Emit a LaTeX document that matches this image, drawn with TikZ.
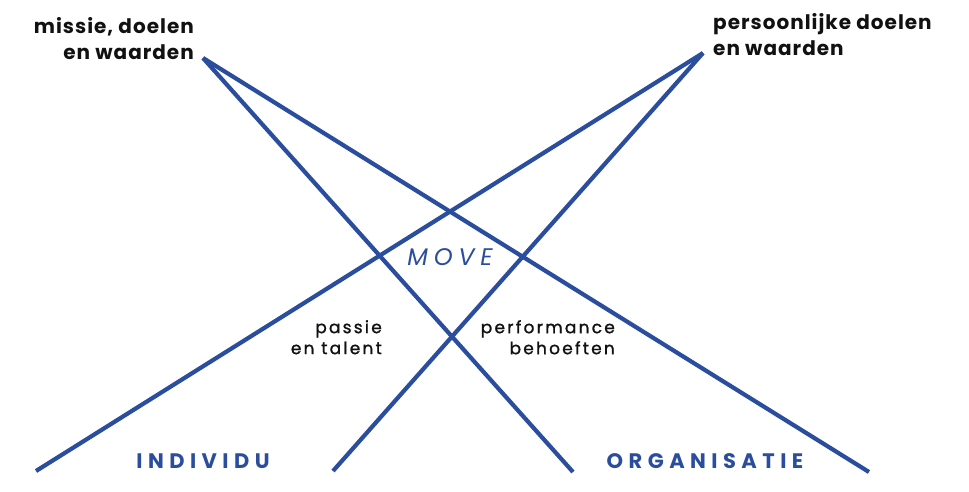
\documentclass[tikz,border=0pt]{standalone}
\usepackage{fontspec}
\setmainfont{Poppins}
\newfontfamily\topfont[LetterSpace=5]{Poppins}
\newfontfamily\midfont[LetterSpace=13, FakeBold=1.2]{Poppins}
\newfontfamily\movefont[LetterSpace=24]{Poppins}
\newfontfamily\polefont[LetterSpace=26]{Poppins}
\usetikzlibrary{positioning}
\definecolor{mBlue}{HTML}{2B4D9D}
\definecolor{mInk}{HTML}{111111}

\begin{document}
\begin{tikzpicture}[x=1pt, y=-1pt,
  beam/.style={draw=mBlue, line width=4.2pt},
  lab/.style={font=\topfont\bfseries\fontsize{20}{26}\selectfont\color{mInk}, inner sep=0pt},
  small/.style={font=\midfont\fontsize{17}{21}\selectfont\color{mInk}, inner sep=0pt, align=right},
  pole/.style={font=\polefont\bfseries\fontsize{21}{24}\selectfont\color{mBlue}, inner sep=0pt}]
  \useasboundingbox (0,0) rectangle (969,491);
  % apexes and feet
  \coordinate (ml) at (203,58);
  \coordinate (pd) at (703,53);
  \coordinate (mlA) at (573,472);
  \coordinate (mlB) at (869,472);
  \coordinate (pdA) at (36,471);
  \coordinate (pdB) at (333,471);
  % beams
  \draw[beam] (ml) -- (mlA);
  \draw[beam] (ml) -- (mlB);
  \draw[beam] (pd) -- (pdA);
  \draw[beam] (pd) -- (pdB);
  % labels
  \node[lab, align=right, anchor=north east] (missie) at (194,17) {missie, doelen\\en waarden};
  \node[lab, align=left, anchor=north west] (pers) at (713,13) {persoonlijke doelen\\en waarden};
  \node[font=\movefont\itshape\fontsize{24}{24}\selectfont\color{mBlue}, inner sep=0pt] (move) at (450,257) {MOVE};
  \node[small, anchor=north east] (passie) at (382,320) {passie\\en talent};
  \node[small, anchor=north east] (perf) at (615,320) {performance\\behoeften};
  \node[pole] (indiv) at (203,461) {INDIVIDU};
  \node[pole] (org) at (705,461) {ORGANISATIE};
\end{tikzpicture}
\end{document}
